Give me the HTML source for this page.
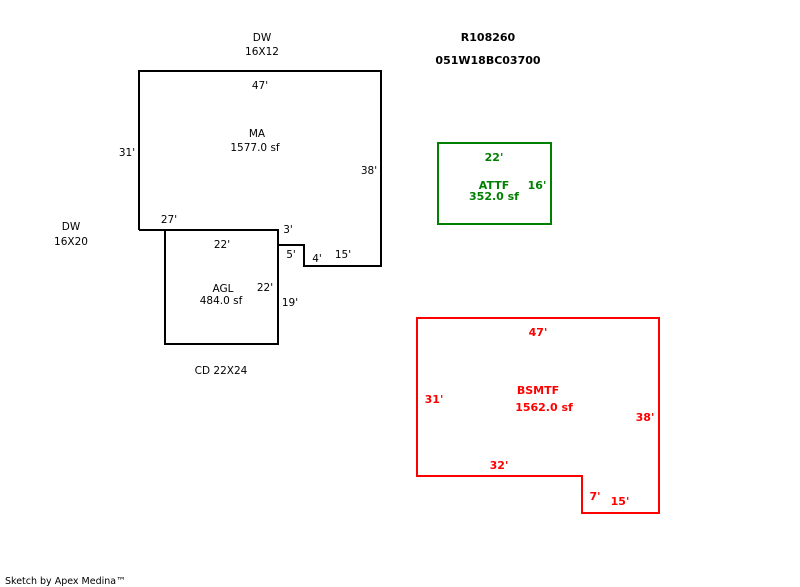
<!DOCTYPE html>
<html><head><style>
html,body{margin:0;padding:0;background:#fff;overflow:hidden;width:800px;height:587px;}
svg{display:block;}
svg text{font-family:"DejaVu Sans","Liberation Sans",sans-serif;font-size:10.5px;}
.b{font-weight:bold;font-size:11px;}
</style></head><body>
<svg width="800" height="587" xmlns="http://www.w3.org/2000/svg">
<g fill="none" stroke-width="2">
<polyline stroke="#000" points="139,230 139,71 381,71 381,266 304,266 304,245 278,245"/>
<line stroke="#000" x1="139" y1="230" x2="165" y2="230"/>
<rect stroke="#000" x="165" y="230" width="113" height="114"/>
<rect stroke="#008000" x="438" y="143" width="113" height="81"/>
<polygon stroke="#f00" points="417,318 659,318 659,513 582,513 582,476 417,476"/>
</g>
<g fill="#000" text-anchor="middle">
<text x="262" y="41">DW</text><text x="262" y="55">16X12</text>
<text x="71" y="230">DW</text><text x="71" y="245">16X20</text>
<text x="221" y="374">CD 22X24</text>
<text x="260" y="89">47'</text>
<text x="257" y="137">MA</text><text x="255" y="151">1577.0 sf</text>
<text x="127" y="156">31'</text>
<text x="369" y="174">38'</text>
<text x="169" y="223">27'</text>
<text x="288" y="233">3'</text>
<text x="222" y="248">22'</text>
<text x="291" y="258">5'</text>
<text x="317" y="262">4'</text>
<text x="343" y="258">15'</text>
<text x="223" y="292">AGL</text><text x="221" y="304">484.0 sf</text>
<text x="265" y="291">22'</text>
<text x="290" y="306">19'</text>
<text x="5" y="584" text-anchor="start" style="font-size:9.5px">Sketch by Apex Medina™</text>
</g>
<g text-anchor="middle">
<text class="b" x="488" y="41">R108260</text>
<text class="b" x="488" y="64">051W18BC03700</text>
</g>
<g fill="#008000" text-anchor="middle">
<text class="b" x="494" y="161">22'</text>
<text class="b" x="494" y="189">ATTF</text>
<text class="b" x="494" y="200">352.0 sf</text>
<text class="b" x="537" y="189">16'</text>
</g>
<g fill="#f00" text-anchor="middle">
<text class="b" x="538" y="336">47'</text>
<text class="b" x="538" y="394">BSMTF</text>
<text class="b" x="544" y="411">1562.0 sf</text>
<text class="b" x="434" y="403">31'</text>
<text class="b" x="645" y="421">38'</text>
<text class="b" x="499" y="469">32'</text>
<text class="b" x="595" y="500">7'</text>
<text class="b" x="620" y="505">15'</text>
</g>
</svg>
</body></html>
